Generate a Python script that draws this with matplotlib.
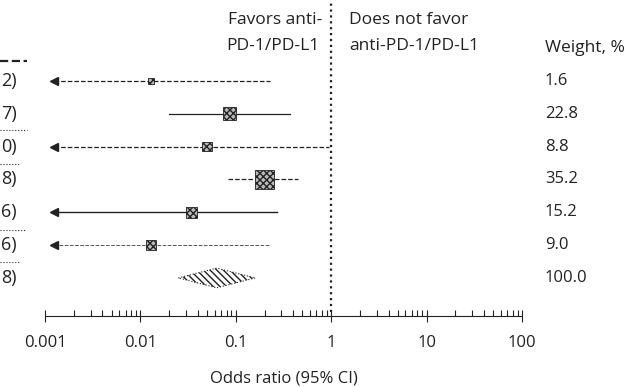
import numpy as np
import matplotlib.pyplot as plt
from matplotlib.patches import Polygon
from matplotlib.transforms import blended_transform_factory

# study rows (labels are cut off at the left edge in the source)
row_labels = ['2)', '7)', '0)', '8)', '6)', '6)', '8)']
odds = [0.013, 0.085, 0.05, 0.2, 0.034, 0.013]
ci_low = [np.nan, 0.02, np.nan, 0.083, np.nan, np.nan]   # nan = below 0.001 (arrow)
ci_high = [0.23, 0.37, 0.95, 0.45, 0.27, 0.23]
weights = ['1.6', '22.8', '8.8', '35.2', '15.2', '9.0', '100.0']
pooled = (0.025, 0.063, 0.16)
tick_vals = [0.001, 0.01, 0.1, 1, 10, 100]
tick_labels = ['0.001', '0.01', '0.1', '1', '10', '100']

line_styles = ['--', '-', '--', '--', '-', '--']
line_colors = ['#222222', '#222222', '#222222', '#222222', '#222222', '#555555']
line_widths = [0.9, 0.9, 0.9, 0.9, 1.0, 0.7]
marker_sizes = [19, 88, 45, 200, 65, 50]

W, H = 639, 387
fig = plt.figure(figsize=(W / 100, H / 100), dpi=100)
ax = fig.add_axes([45 / W, 71 / H, 477 / W, 316 / H])
ax.set_xscale('log')
ax.set_xlim(0.001, 100)
ax.set_ylim(7.16, -2.47)

font = 'Open Sans'
ink = '#222222'

for i in range(len(odds)):
    lo = ci_low[i]
    c = line_colors[i]
    if np.isnan(lo):
        ax.plot([0.00125, ci_high[i]], [i, i], ls=line_styles[i], lw=line_widths[i], color=c)
        ax.plot(0.00125, i, marker='<', ms=5.5, color=ink)
    else:
        ax.plot([lo, ci_high[i]], [i, i], ls=line_styles[i], lw=line_widths[i], color=c)
    ax.scatter(odds[i], i, s=marker_sizes[i], marker='s', facecolor='#bbbbbb',
               edgecolor=ink, hatch='xxxxx', linewidth=0.6, zorder=3)

# pooled diamond
k = len(odds)
dl, dc, dh = pooled
diamond = Polygon([[dl, k], [dc, k - 0.3], [dh, k], [dc, k + 0.3]], closed=True,
                  facecolor='white', edgecolor=ink, hatch='\\\\\\\\\\', lw=0.8, ls=':')
ax.add_patch(diamond)

# line of no effect
ax.axvline(1, ymin=0.012, ymax=1, color=ink, ls=':', lw=1.6)

for s in ['top', 'right', 'left']:
    ax.spines[s].set_visible(False)
ax.spines['bottom'].set_color(ink)
ax.set_yticks([])
ax.set_xticks(tick_vals)
ax.set_xticklabels(tick_labels, fontfamily=font, fontsize=12, color=ink)
ax.tick_params(axis='x', which='major', direction='inout', length=9, width=0.8, pad=9, colors=ink)
ax.tick_params(axis='x', which='minor', direction='in', length=4, width=0.8, colors=ink)
ax.set_xlabel('Odds ratio (95% CI)', fontfamily=font, fontsize=12, color=ink, labelpad=14)

tr = blended_transform_factory(fig.transFigure, ax.transData)

# headers
hs = dict(transform=tr, va='center', fontsize=12.5, fontfamily=font, color=ink)
ax.text(322 / W, -1.86, 'Favors anti-', ha='right', **hs)
ax.text(319 / W, -1.07, 'PD-1/PD-L1', ha='right', **hs)
ax.text(349 / W, -1.86, 'Does not favor', ha='left', **hs)
ax.text(349 / W, -1.07, 'anti-PD-1/PD-L1', ha='left', **hs)
ax.text(545 / W, -1.0, 'Weight, %', ha='left', **hs)

for i, w in enumerate(weights):
    ax.text(545 / W, i, w, transform=tr, ha='left', va='center', fontsize=12, fontfamily=font, color=ink)
for i, lab in enumerate(row_labels):
    ax.text(17 / W, i, lab, transform=tr, ha='right', va='center', fontsize=13, fontfamily=font, color=ink)

# left separators
ax.plot([0, 27 / W], [-0.61, -0.61], transform=tr, color=ink, ls='--', lw=1.6, clip_on=False)
for y, x1 in [(1.49, 27), (2.53, 20), (4.54, 25), (5.52, 20)]:
    ax.plot([0, x1 / W], [y, y], transform=tr, color=ink, ls=':', lw=0.8, clip_on=False)

fig.savefig('out.png', dpi=100)
